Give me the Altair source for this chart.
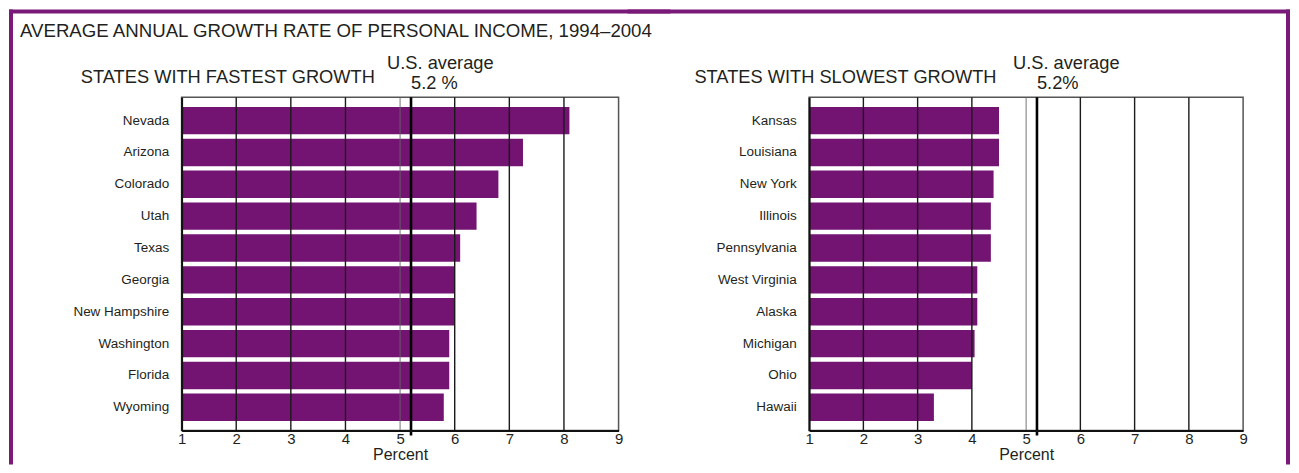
import altair as alt
import pandas as pd

# ---- data ----
fast_states = ["Nevada", "Arizona", "Colorado", "Utah", "Texas", "Georgia",
               "New Hampshire", "Washington", "Florida", "Wyoming"]
fast_values = [8.1, 7.25, 6.8, 6.4, 6.1, 6.0, 6.0, 5.9, 5.9, 5.8]

slow_states = ["Kansas", "Louisiana", "New York", "Illinois", "Pennsylvania",
               "West Virginia", "Alaska", "Michigan", "Ohio", "Hawaii"]
slow_values = [4.5, 4.5, 4.4, 4.35, 4.35, 4.1, 4.1, 4.05, 4.0, 3.3]

us_average = 5.2
grid_values = [2, 3, 4, 5, 6, 7, 8]
tick_values = [1, 2, 3, 4, 5, 6, 7, 8, 9]

main_title = "AVERAGE ANNUAL GROWTH RATE OF PERSONAL INCOME, 1994–2004"
left_subtitle = "STATES WITH FASTEST GROWTH"
right_subtitle = "STATES WITH SLOWEST GROWTH"
avg_label = "U.S. average"
left_avg_value = "5.2 %"
right_avg_value = "5.2%"

# ---- style ----
BAR = "#731472"
FRAME = "#7a1a78"
TXT = "#231f20"
H = 334
BOTTOM = 368
FONT = "Liberation Sans, Arial, sans-serif"

one = pd.DataFrame({"k": [0]})


def text_layer(txt, x, y, size, align="left"):
    return alt.Chart(one).mark_text(
        text=txt, align=align, baseline="alphabetic", font=FONT,
        fontSize=size, color=TXT
    ).encode(x=x, y=y)


def band(x1, x2, y1, y2):
    return alt.Chart(one).mark_rect(color=FRAME).encode(
        x=alt.value(x1), x2=alt.value(x2), y=alt.value(y1), y2=alt.value(y2)
    )


def panel(states, values, width, avg_value_text, subtitle, sub_x, frame_layers):
    df = pd.DataFrame({"state": states, "value": values})
    xscale = alt.Scale(domain=[1, 9], nice=False, zero=False)
    xaxis = alt.Axis(
        values=tick_values, grid=False, ticks=False,
        domainColor="#111", domainWidth=2,
        labelFont=FONT, labelFontSize=15, labelColor=TXT,
        labelPadding=1, labelFlush=False,
        title="Percent", titleFont=FONT, titleFontSize=16,
        titleFontWeight="normal", titleColor=TXT, titlePadding=0,
        zindex=1,
    )

    bars = alt.Chart(df).mark_bar(color=BAR).encode(
        x=alt.X("value:Q", scale=xscale, axis=xaxis),
        x2=alt.datum(1),
        y=alt.Y(
            "state:N", sort=states,
            scale=alt.Scale(paddingInner=0.14, paddingOuter=0.3),
            axis=alt.Axis(
                title=None, ticks=False, domainColor="#111", domainWidth=2,
                labelFont=FONT, labelFontSize=13.5, labelColor=TXT,
                labelPadding=13, zindex=1,
            ),
        ),
    )

    grid = alt.Chart(pd.DataFrame({"g": grid_values})).mark_rule().encode(
        x=alt.X("g:Q", scale=xscale, axis=xaxis),
        y=alt.value(0),
        y2=alt.value(H),
        color=alt.condition("datum.g == 5", alt.value("#666666"), alt.value("#1a1a1a")),
        strokeWidth=alt.condition("datum.g == 5", alt.value(0.9), alt.value(1.4)),
    )

    avg_rule = alt.Chart(one).mark_rule(color="#000000", strokeWidth=2.6).encode(
        x=alt.datum(us_average), y=alt.value(0), y2=alt.value(H + 5)
    )

    avg_lab = alt.Chart(one).mark_text(
        text=avg_label, align="left", baseline="alphabetic", font=FONT,
        fontSize=18.3, color=TXT, dx=-24
    ).encode(x=alt.datum(us_average), y=alt.value(-28))

    avg_val = alt.Chart(one).mark_text(
        text=avg_value_text, align="left", baseline="alphabetic", font=FONT,
        fontSize=18.3, color=TXT, dx=0
    ).encode(x=alt.datum(us_average), y=alt.value(-8))

    sub = text_layer(subtitle, alt.value(sub_x), alt.value(-14), 18.3)

    layers = [bars, grid, avg_rule, avg_lab, avg_val, sub] + frame_layers
    return alt.layer(*layers).properties(width=width, height=H)


# left panel: its top band reaches plot-x 490, the right panel's starts at -182
left_frame = [
    band(-173, -169, -88, BOTTOM),
    band(-173, 490, -88, -84),
    text_layer(main_title, alt.value(-162), alt.value(-60), 18.7),
]
right_frame = [
    band(-182, 482, -88, -84),
    band(478, 482, -88, BOTTOM),
]

left = panel(fast_states, fast_values, 438, left_avg_value, left_subtitle, -101, left_frame)
right = panel(slow_states, slow_values, 435, right_avg_value, right_subtitle, -115, right_frame)

# right plot origin should sit at page x 808: 181 + 490 + spacing + 182 = 808
chart = alt.hconcat(left, right, spacing=-45).properties(
    padding=0, background="white"
).configure_view(stroke="#555555", strokeWidth=1.5)

chart.save("out.html", embed_options={"renderer": "svg", "actions": False})
